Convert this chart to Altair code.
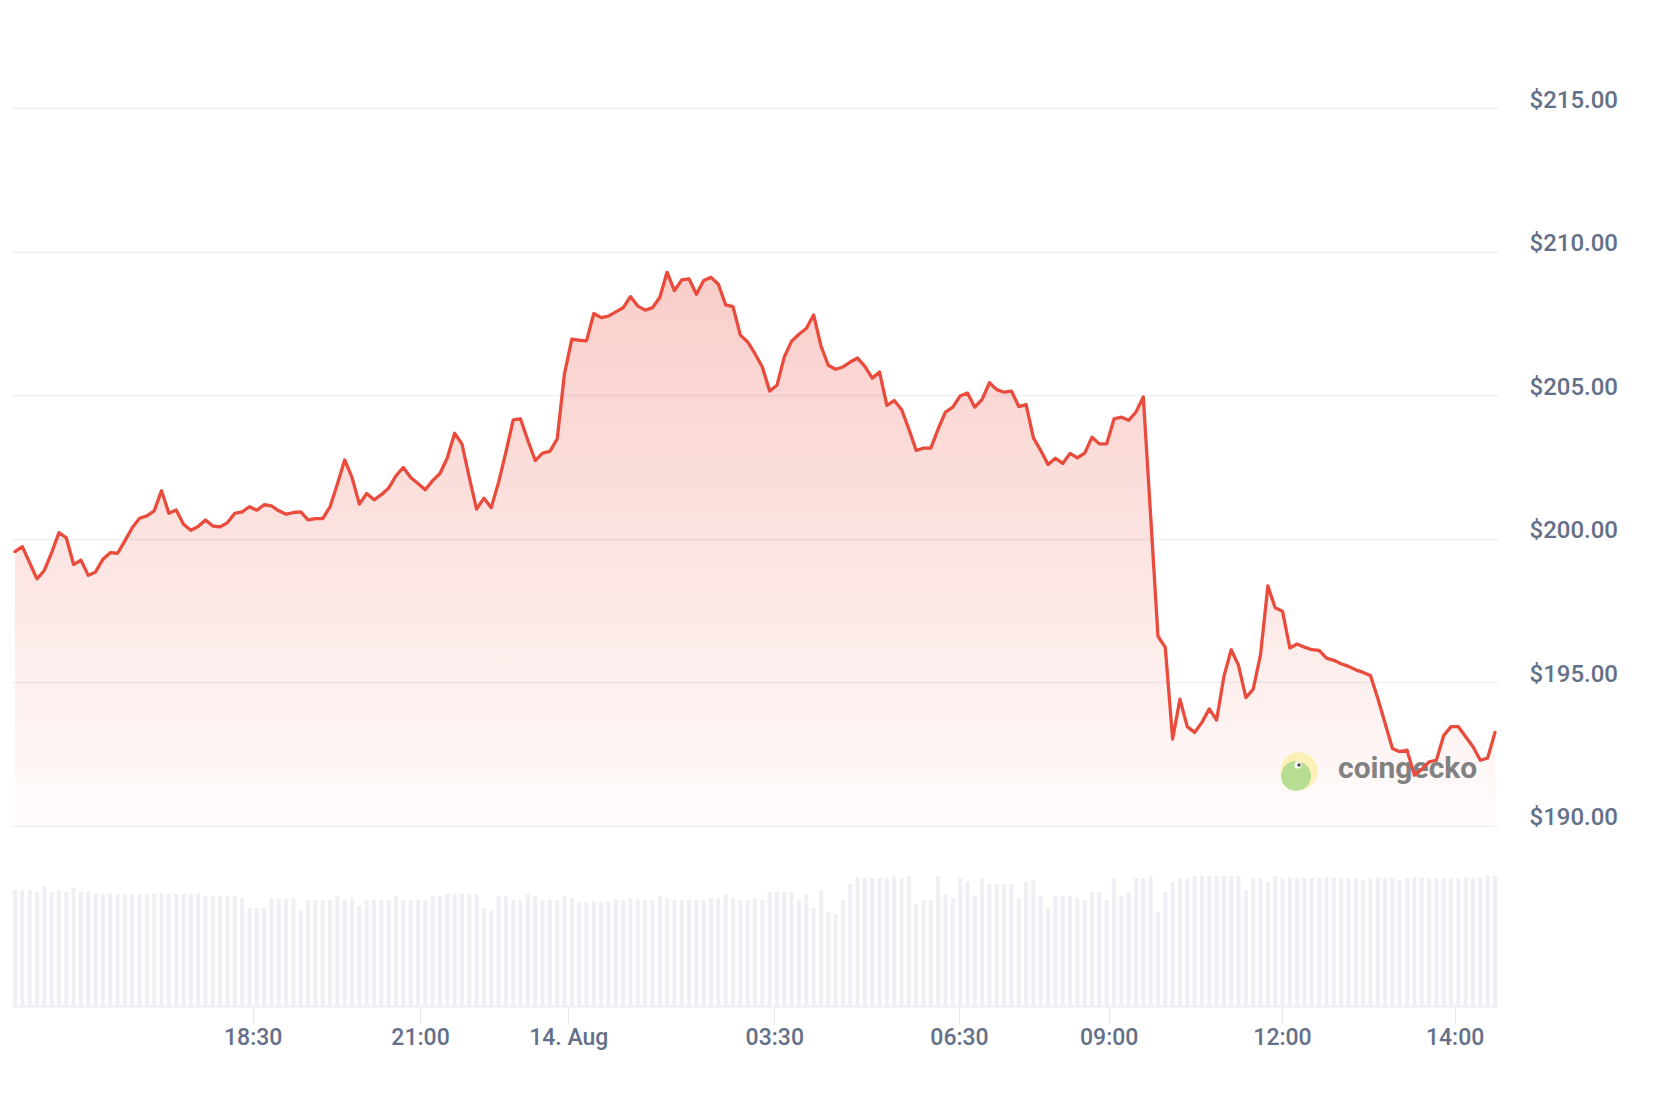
import altair as alt
import pandas as pd

# ---- data (index = sample number on the ordinal time axis) ----
price = [
    199.55, 199.72, 199.16, 198.60, 198.89, 199.51, 200.21, 200.03, 199.10, 199.25,
    198.72, 198.84, 199.28, 199.51, 199.49, 199.92, 200.38, 200.71, 200.79, 200.97,
    201.67, 200.88, 201.00, 200.50, 200.29, 200.42, 200.65, 200.44, 200.41, 200.56,
    200.88, 200.93, 201.11, 200.99, 201.18, 201.14, 200.97, 200.85, 200.91, 200.93,
    200.65, 200.70, 200.70, 201.11, 201.90, 202.74, 202.13, 201.20, 201.57, 201.35,
    201.53, 201.76, 202.19, 202.48, 202.13, 201.92, 201.70, 202.02, 202.27, 202.81,
    203.67, 203.30, 202.13, 201.03, 201.41, 201.08, 201.96, 203.01, 204.14, 204.17,
    203.42, 202.72, 202.98, 203.04, 203.47, 205.75, 206.95, 206.91, 206.89, 207.84,
    207.70, 207.75, 207.90, 208.04, 208.43, 208.10, 207.96, 208.04, 208.40, 209.28,
    208.64, 209.01, 209.05, 208.51, 208.99, 209.10, 208.86, 208.14, 208.08, 207.09,
    206.85, 206.44, 205.98, 205.14, 205.34, 206.33, 206.88, 207.12, 207.32, 207.79,
    206.72, 206.04, 205.90, 205.98, 206.15, 206.29, 206.00, 205.59, 205.80, 204.64,
    204.81, 204.50, 203.82, 203.07, 203.15, 203.15, 203.82, 204.41, 204.58, 204.97,
    205.07, 204.58, 204.85, 205.43, 205.19, 205.10, 205.14, 204.60, 204.67, 203.51,
    203.07, 202.58, 202.80, 202.62, 202.97, 202.81, 202.98, 203.53, 203.30, 203.30,
    204.17, 204.23, 204.12, 204.41, 204.93, 200.80, 196.60, 196.21, 193.02, 194.41,
    193.45, 193.25, 193.60, 194.07, 193.68, 195.20, 196.13, 195.58, 194.46, 194.76,
    195.96, 198.35, 197.59, 197.47, 196.19, 196.33, 196.22, 196.13, 196.11, 195.84,
    195.76, 195.64, 195.55, 195.43, 195.34, 195.23, 194.44, 193.57, 192.69, 192.58,
    192.63, 191.76, 191.97, 192.22, 192.28, 193.14, 193.45, 193.45, 193.10, 192.75,
    192.28, 192.36, 193.25,
]

volume = [
    116, 116, 116, 114, 120, 114, 116, 114, 118, 114,
    114, 112, 112, 112, 112, 112, 112, 112, 112, 112,
    112, 112, 112, 112, 112, 112, 110, 110, 110, 110,
    110, 108, 98, 98, 98, 108, 108, 108, 108, 96,
    106, 106, 106, 106, 110, 106, 108, 100, 106, 106,
    106, 106, 110, 106, 106, 106, 106, 110, 110, 112,
    112, 112, 112, 112, 98, 96, 110, 110, 106, 106,
    112, 110, 106, 106, 106, 110, 108, 104, 104, 104,
    104, 104, 106, 106, 108, 106, 106, 106, 110, 108,
    106, 106, 106, 106, 106, 108, 108, 112, 108, 106,
    106, 108, 106, 114, 114, 114, 114, 106, 112, 98,
    116, 94, 92, 106, 122, 128, 128, 128, 128, 128,
    130, 128, 130, 102, 106, 106, 130, 112, 108, 128,
    124, 110, 128, 122, 122, 122, 122, 108, 124, 126,
    110, 98, 110, 110, 110, 108, 106, 114, 114, 106,
    128, 110, 114, 128, 128, 130, 94, 114, 124, 128,
    128, 130, 130, 130, 130, 130, 130, 130, 116, 128,
    128, 124, 130, 128, 128, 128, 128, 128, 128, 128,
    128, 128, 128, 128, 126, 128, 128, 128, 128, 126,
    128, 128, 128, 128, 128, 128, 128, 128, 128, 128,
    128, 130, 130,
]

tick_pos = [32.44, 55.28, 75.51, 103.63, 128.84, 149.27, 172.93, 196.49]
tick_labels = ["18:30", "21:00", "14. Aug", "03:30", "06:30", "09:00", "12:00", "14:00"]
price_ticks = [190, 195, 200, 205, 210, 215]

df = pd.DataFrame({"i": list(range(len(price))), "price": price, "volume": volume})

LABEL = "#637088"
FONT = "Roboto"
RED = "#E94B3C"

label_expr = "".join(
    f"datum.value == {p} ? '{t}' : " for p, t in zip(tick_pos, tick_labels)
) + "''"

xscale = alt.Scale(domain=[-0.41, len(price) - 1 + 0.41], nice=False, zero=False, padding=0)
xaxis = alt.Axis(
    values=tick_pos, labelExpr=label_expr, title=None, grid=False,
    domain=True, domainColor="#ECEEF3", domainWidth=2,
    ticks=True, tickSize=18, tickColor="#E6E8EE", tickWidth=1,
    labelFont=FONT, labelFontSize=23, labelFontWeight=500, labelColor=LABEL, labelPadding=2,
    labelOverlap=False, labelFlush=False,
)
x = alt.X("i:Q", scale=xscale, axis=xaxis)

pscale = alt.Scale(domain=[183.72, 218.344], nice=False, zero=False)
paxis = alt.Axis(
    orient="right", values=price_ticks, format="$,.2f", title=None,
    grid=True, gridColor="#EFEFF4", gridWidth=1.5, ticks=False, domain=False,
    labelAlign="left", labelPadding=31, labelBaseline="alphabetic", labelOffset=-1,
    labelFont=FONT, labelFontSize=24, labelFontWeight=500, labelColor=LABEL,
)

bars = alt.Chart(df).mark_bar(size=4, color="#EEF0F5").encode(
    x=x,
    y=alt.Y("volume:Q", scale=alt.Scale(domain=[0, 994], nice=False), axis=None),
)

gradient = alt.Gradient(
    gradient="linear",
    stops=[
        alt.GradientStop(color="rgba(233,75,60,0.28)", offset=0),
        alt.GradientStop(color="rgba(233,75,60,0.02)", offset=1),
    ],
    x1=0, x2=0, y1=0, y2=1,
)

area = alt.Chart(df).mark_area(color=gradient).encode(
    x=x,
    y=alt.Y("price:Q", scale=pscale, axis=paxis),
    y2=alt.datum(190),
)

line = alt.Chart(df).mark_line(
    color=RED, strokeWidth=3.3, strokeJoin="round", strokeCap="round"
).encode(
    x=x,
    y=alt.Y("price:Q", scale=pscale, axis=None),
)

# ---- watermark (decoration, pixel placed) ----
wm = pd.DataFrame({"t": ["coingecko"]})
logo_bg = alt.Chart(wm).mark_point(filled=True, opacity=1, color="#FAF0B8", size=1390).encode(
    x=alt.value(1287), y=alt.value(759))
logo_head = alt.Chart(wm).mark_point(filled=True, opacity=1, color="#B6DD92", size=900).encode(
    x=alt.value(1284), y=alt.value(764))
logo_eye = alt.Chart(wm).mark_point(filled=True, opacity=1, color="#FFFFFF", size=50).encode(
    x=alt.value(1286), y=alt.value(753))
logo_pupil = alt.Chart(wm).mark_point(filled=True, opacity=1, color="#4A4A4A", size=12).encode(
    x=alt.value(1287), y=alt.value(753))
wm_text = alt.Chart(wm).mark_text(
    font=FONT, fontSize=30, fontWeight="bold", color="#7B7B7B", align="left",
    baseline="alphabetic", opacity=0.95,
).encode(x=alt.value(1326), y=alt.value(766), text="t:N")

chart = (
    alt.layer(bars, area, logo_bg, logo_head, logo_eye, logo_pupil, wm_text, line)
    .resolve_scale(y="independent")
    .properties(width=1486, height=994, background="white",
                padding={"left": 4, "top": 4, "right": 10, "bottom": 5})
    .configure_view(stroke=None)
)

chart.save("out.html", embed_options={"renderer": "svg", "actions": False})
